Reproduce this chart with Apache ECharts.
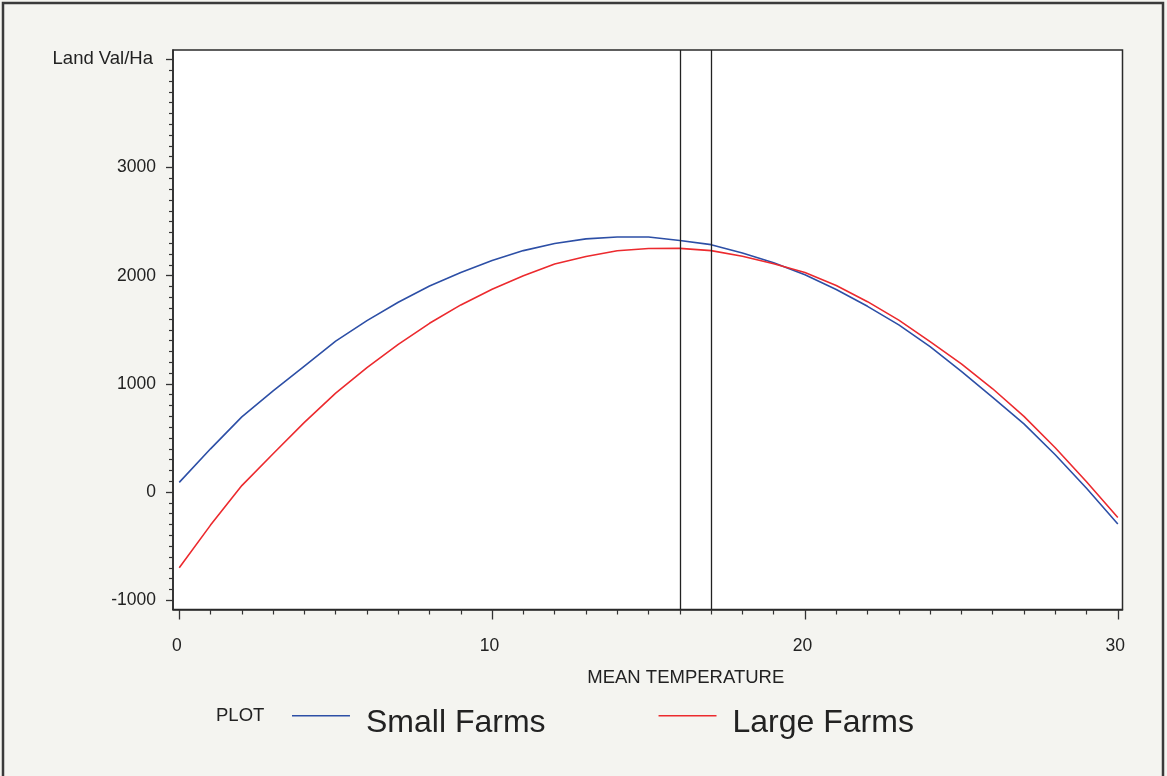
<!DOCTYPE html>
<html>
<head>
<meta charset="utf-8">
<script src="https://cdn.jsdelivr.net/npm/echarts@6/dist/echarts.min.js"></script>
<style>
html,body{margin:0;padding:0;background:#f4f4f0;}
#chart{width:1167px;height:776px;}
</style>
</head>
<body>
<div id="chart"></div>
<script>
// Mean temperature (x)
var temps = [0,1,2,3,4,5,6,7,8,9,10,11,12,13,14,15,16,17,18,19,20,21,22,23,24,25,26,27,28,29,30];
// Land value per hectare, small farms
var smallFarms = [90,400,695,935,1165,1395,1585,1755,1905,2030,2140,2232,2298,2340,2358,2358,2325,2287,2210,2120,2008,1872,1717,1545,1345,1115,875,630,345,35,-295];
// Land value per hectare, large farms
var largeFarms = [-700,-305,60,355,645,915,1150,1365,1560,1730,1875,2000,2108,2178,2230,2252,2253,2232,2180,2110,2030,1910,1760,1590,1390,1185,955,700,410,95,-235];
// Reference vertical lines
var refLines = [16, 17];
// Tick values
var xMajor = [0,10,20,30];
var xMinor = [1,2,3,4,5,6,7,8,9,11,12,13,14,15,16,17,18,19,21,22,23,24,25,26,27,28,29];
var yMajor = [-1000,0,1000,2000,3000,4000];
var yMinor = [];
for (var v = -1000; v <= 4000; v += 100) { if (v % 1000 !== 0) yMinor.push(v); }

var xMin = -0.2, xMax = 30.15, yMin = -1085, yMax = 4086;
var FONT = '"Liberation Sans", Arial, Helvetica, sans-serif';
var TXT = '#222';
// legend line icon: thin bar at top of a taller (otherwise empty) box, so the line sits above text centre
var LEGEND_ICON = 'path://M0,0H58V1.6H0Z M0,16H0.01V16.01H0Z';

function zip(xs, ys) { return xs.map(function (x, i) { return [x, ys[i]]; }); }

var chart = echarts.init(document.getElementById('chart'));
chart.setOption({
  backgroundColor: '#f4f4f0',
  animation: false,
  graphic: [{
    type: 'rect', silent: true, z: -10,
    shape: {x: 3, y: 3, width: 1160, height: 800},
    style: {fill: 'none', stroke: '#3a3a3a', lineWidth: 2.5}
  }],
  title: {
    text: 'PLOT', left: 211, top: 701,
    textStyle: {fontFamily: FONT, fontSize: 18.5, fontWeight: 'normal', color: TXT}
  },
  legend: {
    left: 287, top: 702, icon: LEGEND_ICON,
    itemWidth: 58, itemHeight: 16, itemGap: 113,
    textStyle: {fontFamily: FONT, fontSize: 32, color: TXT, padding: [0, 0, 0, 11]},
    data: ['Small Farms', 'Large Farms']
  },
  grid: {
    left: 173, top: 50, width: 949.5, height: 559.5,
    show: true, backgroundColor: '#ffffff', borderColor: '#2a2a2a', borderWidth: 1.5,
    containLabel: false
  },
  xAxis: [{
    type: 'value', min: xMin, max: xMax, position: 'bottom',
    axisLine: {show: true, onZero: false, lineStyle: {color: '#2a2a2a', width: 1.5}},
    axisTick: {show: true, inside: false, customValues: xMajor, length: 10, lineStyle: {color: '#333', width: 1.3}},
    axisLabel: {customValues: xMajor, margin: 28, fontFamily: FONT, fontSize: 17.5, color: TXT, padding: [0, 5, 0, 0]},
    splitLine: {show: false},
    name: 'MEAN TEMPERATURE', nameLocation: 'middle', nameGap: 59,
    nameTextStyle: {fontFamily: FONT, fontSize: 18.5, color: TXT, padding: [0, 0, 0, 76]}
  }, {
    type: 'value', min: xMin, max: xMax, position: 'bottom',
    axisLine: {show: false, onZero: false},
    axisTick: {show: true, inside: false, customValues: xMinor, length: 5, lineStyle: {color: '#333', width: 1.2}},
    axisLabel: {show: false},
    splitLine: {show: false}
  }],
  yAxis: [{
    type: 'value', min: yMin, max: yMax, position: 'left',
    axisLine: {show: true, onZero: false, lineStyle: {color: '#2a2a2a', width: 1.5}},
    axisTick: {show: true, inside: false, customValues: yMajor, length: 7, lineStyle: {color: '#333', width: 1.3}},
    axisLabel: {
      customValues: yMajor, margin: 17, fontFamily: FONT, fontSize: 17.5, color: TXT,
      formatter: function (v) { return v === 4000 ? '{big|Land Val/Ha}' : String(v); },
      rich: {big: {fontFamily: FONT, fontSize: 18.5, color: TXT, padding: [0, 3, 0, 0]}}
    },
    splitLine: {show: false}
  }, {
    type: 'value', min: yMin, max: yMax, position: 'left',
    axisLine: {show: false, onZero: false},
    axisTick: {show: true, inside: false, customValues: yMinor, length: 4, lineStyle: {color: '#333', width: 1.2}},
    axisLabel: {show: false},
    splitLine: {show: false}
  }],
  series: [{
    name: 'Small Farms', type: 'line', xAxisIndex: 0, yAxisIndex: 0,
    data: zip(temps, smallFarms), symbol: 'none', smooth: false,
    lineStyle: {color: '#2d4fa6', width: 1.6}, itemStyle: {color: '#2d4fa6'},
    markLine: {
      silent: true, symbol: 'none', label: {show: false},
      lineStyle: {color: '#222', width: 1.3, type: 'solid'},
      data: refLines.map(function (r) { return {xAxis: r}; })
    }
  }, {
    name: 'Large Farms', type: 'line', xAxisIndex: 0, yAxisIndex: 0,
    data: zip(temps, largeFarms), symbol: 'none', smooth: false,
    lineStyle: {color: '#ec2a2e', width: 1.6}, itemStyle: {color: '#ec2a2e'}
  }]
});
</script>
</body>
</html>
